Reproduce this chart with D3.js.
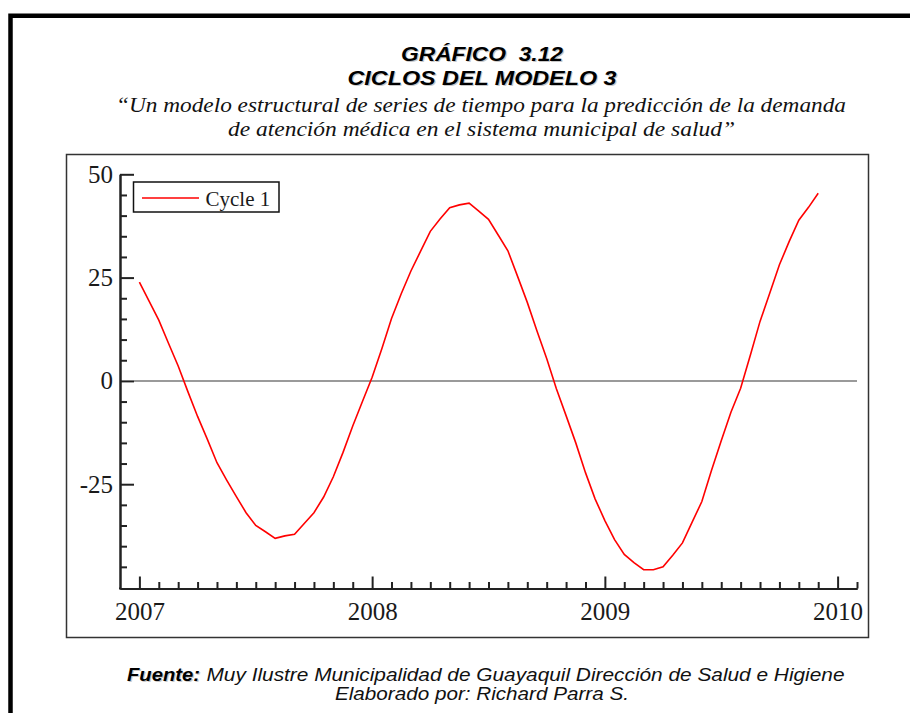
<!DOCTYPE html>
<html>
<head>
<meta charset="utf-8">
<script src="https://cdn.jsdelivr.net/npm/d3@7"></script>
<style>
  html, body { margin: 0; padding: 0; background: #fff; }
  svg { display: block; }
</style>
</head>
<body>
<svg id="chart" width="910" height="713"></svg>
<script>
// ---- data ----
const titleLines = ["GRÁFICO  3.12", "CICLOS DEL MODELO 3"];
const subtitleLines = ["\u201CUn modelo estructural de series de tiempo para la predicción de la demanda",
                       "de atención médica en el sistema municipal de salud\u201D"];
const sourceLabel = "Fuente:";
const sourceText = "Muy Ilustre Municipalidad de Guayaquil Dirección de Salud e Higiene";
const authorText = "Elaborado por: Richard Parra S.";
const seriesName = "Cycle 1";
const startYear = 2007;
const periodsPerYear = 24;
const cycleValues = [23.9, 19.3, 14.7, 9.1, 3.6, -2.6, -8.6, -14.1, -19.8, -24.0,
  -28.0, -31.9, -35.0, -36.5, -38.1, -37.5, -37.1, -34.5, -31.9, -28.1,
  -23.2, -17.3, -10.9, -5.0, 0.9, 7.8, 15.1, 21.1, 26.6, 31.4,
  36.2, 39.2, 41.9, 42.6, 43.0, 41.1, 39.1, 35.3, 31.5, 25.3,
  19.0, 12.1, 5.4, -1.9, -8.4, -15.0, -22.2, -28.6, -33.8, -38.4,
  -42.0, -44.0, -45.7, -45.7, -45.0, -42.2, -39.2, -34.2, -29.2, -21.6,
  -14.5, -7.6, -1.8, 6.2, 14.4, 21.2, 28.1, 33.7, 38.9, 42.0, 45.4];
const yearTicks = [2007, 2008, 2009, 2010];
const yMajorTicks = [-25, 0, 25, 50];
const yMinorTicks = [-45, -40, -35, -30, -20, -15, -10, -5, 5, 10, 15, 20, 30, 35, 40, 45];

const data = cycleValues.map((v, i) => ({ t: startYear + i / periodsPerYear, v }));

// ---- layout ----
const svg = d3.select("#chart");
const x = d3.scaleLinear().domain([2007 - 1/12, 2010 + 1/12]).range([120, 857]);
const y = d3.scaleLinear().domain([-50, 50]).range([587.5, 174.3]);

// outer frame (thick black, top and left)
svg.append("path")
  .attr("d", "M10.5,713 L10.5,15.8 L912,15.8")
  .attr("fill", "none").attr("stroke", "#000").attr("stroke-width", 4.5);

// titles
function shadowText(sel, txt, xx, yy, opts) {
  const g = sel.append("g");
  [["#c8c8c8", 1.2], [opts.fill || "#000", 0]].forEach(([c, off]) => {
    const t = g.append("text")
      .attr("x", xx + off).attr("y", yy + off)
      .attr("text-anchor", opts.anchor || "middle")
      .attr("font-family", opts.family)
      .attr("font-size", opts.size)
      .attr("font-weight", opts.weight || "normal")
      .attr("font-style", opts.style || "normal")
      .attr("fill", c)
      .style("white-space", "pre")
      .text(txt);
    if (opts.len) t.attr("textLength", opts.len).attr("lengthAdjust", "spacingAndGlyphs");
  });
}
const sans = "'Liberation Sans', Arial, sans-serif";
const serif = "'Liberation Serif', 'Times New Roman', serif";
shadowText(svg, titleLines[0], 482, 61, { family: sans, size: 21, weight: "bold", style: "italic", len: 162 });
shadowText(svg, titleLines[1], 482, 84.5, { family: sans, size: 21, weight: "bold", style: "italic", len: 269 });

svg.append("text").attr("x", 481).attr("y", 111.5).attr("text-anchor", "middle")
  .attr("font-family", serif).attr("font-size", 22).attr("font-style", "italic").attr("fill", "#111")
  .attr("textLength", 730).attr("lengthAdjust", "spacingAndGlyphs").text(subtitleLines[0]);
svg.append("text").attr("x", 481.5).attr("y", 136).attr("text-anchor", "middle")
  .attr("font-family", serif).attr("font-size", 22).attr("font-style", "italic").attr("fill", "#111")
  .attr("textLength", 507).attr("lengthAdjust", "spacingAndGlyphs").text(subtitleLines[1]);

// chart box
svg.append("rect").attr("x", 66.5).attr("y", 154.5).attr("width", 802).attr("height", 483)
  .attr("fill", "#fff").attr("stroke", "#333").attr("stroke-width", 1.5);

// zero line
svg.append("line").attr("x1", 134).attr("x2", 857).attr("y1", y(0)).attr("y2", y(0))
  .attr("stroke", "#9a9a9a").attr("stroke-width", 2);

// y axis
const yAxisMinor = d3.axisLeft(y).tickValues(yMinorTicks).tickSize(-7).tickSizeOuter(0).tickFormat("");
const yAxisMajor = d3.axisLeft(y).tickValues(yMajorTicks).tickSize(-14).tickSizeOuter(0).tickPadding(7).tickFormat(d => String(d));
const gyMinor = svg.append("g").attr("transform", "translate(120,0)").call(yAxisMinor);
const gyMajor = svg.append("g").attr("transform", "translate(120,0)").call(yAxisMajor);
[gyMinor, gyMajor].forEach(g => {
  g.select(".domain").attr("stroke", "#222").attr("stroke-width", 2);
  g.selectAll(".tick line").attr("stroke", "#222").attr("stroke-width", 2);
});
gyMajor.selectAll(".tick text").attr("font-family", serif).attr("font-size", 25).attr("fill", "#1a1a1a");
// extend y axis to the x axis corner
svg.append("line").attr("x1", 120).attr("x2", 120).attr("y1", y(-50)).attr("y2", 589.5)
  .attr("stroke", "#222").attr("stroke-width", 2);

// x axis
const monthTicks = d3.range(1, 39).map(i => 2007 - 1/12 + i / 12).filter(t => Math.abs(t - Math.round(t)) > 1e-6);
const xAxisMinor = d3.axisBottom(x).tickValues(monthTicks).tickSize(-6.5).tickSizeOuter(0).tickFormat("");
const xAxisMajor = d3.axisBottom(x).tickValues(yearTicks).tickSize(-12).tickSizeOuter(0).tickPadding(13.5).tickFormat(d => String(d));
const gxMinor = svg.append("g").attr("transform", "translate(0,588.5)").call(xAxisMinor);
const gxMajor = svg.append("g").attr("transform", "translate(0,588.5)").call(xAxisMajor);
[gxMinor, gxMajor].forEach(g => {
  g.select(".domain").attr("stroke", "#222").attr("stroke-width", 2);
  g.selectAll(".tick line").attr("stroke", "#222").attr("stroke-width", 2);
});
gxMajor.selectAll(".tick text").attr("font-family", serif).attr("font-size", 25).attr("fill", "#1a1a1a");

// series line
svg.append("path").datum(data)
  .attr("fill", "none").attr("stroke", "#ff0000").attr("stroke-width", 1.6)
  .attr("d", d3.line().x(d => x(d.t)).y(d => y(d.v)));

// legend
svg.append("rect").attr("x", 133.5).attr("y", 182).attr("width", 145.5).attr("height", 30)
  .attr("fill", "#fff").attr("stroke", "#111").attr("stroke-width", 1.5);
svg.append("line").attr("x1", 142).attr("x2", 199).attr("y1", 198).attr("y2", 198)
  .attr("stroke", "#ff0000").attr("stroke-width", 1.6);
svg.append("text").attr("x", 205.5).attr("y", 205.5)
  .attr("font-family", serif).attr("font-size", 21).attr("fill", "#1a1a1a").text(seriesName);

// footer
shadowText(svg, sourceLabel, 127, 680.5, { family: sans, size: 19, weight: "bold", style: "italic", anchor: "start", len: 73 });
svg.append("text").attr("x", 206.5).attr("y", 680.5)
  .attr("font-family", sans).attr("font-size", 19).attr("font-style", "italic").attr("fill", "#111")
  .attr("textLength", 638).attr("lengthAdjust", "spacingAndGlyphs").text(sourceText);
svg.append("text").attr("x", 335).attr("y", 699.5)
  .attr("font-family", sans).attr("font-size", 19).attr("font-style", "italic").attr("fill", "#111")
  .attr("textLength", 294).attr("lengthAdjust", "spacingAndGlyphs").text(authorText);
</script>
</body>
</html>
